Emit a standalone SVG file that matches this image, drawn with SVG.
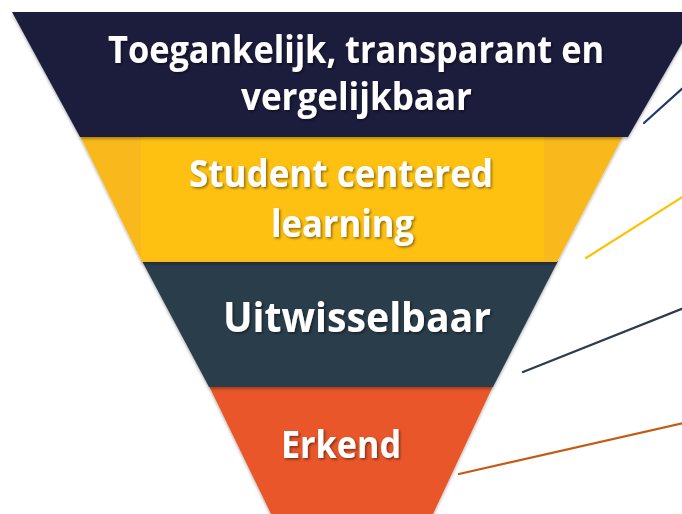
<svg xmlns="http://www.w3.org/2000/svg" width="682" height="514" viewBox="0 0 682 514">
  <defs>
    <filter id="ts" x="-10%" y="-30%" width="120%" height="160%">
      <feDropShadow dx="1.5" dy="1.5" stdDeviation="1" flood-color="#000" flood-opacity="0.45"/>
    </filter>
    <filter id="bs" x="-5%" y="-10%" width="110%" height="125%">
      <feDropShadow dx="0" dy="2" stdDeviation="1.5" flood-color="#000" flood-opacity="0.3"/>
    </filter>
  </defs>
  <style>
    .lbl { font-family: "Open Sans", "Noto Sans", "Liberation Sans", sans-serif; font-weight: 700; fill: #ffffff; filter: url(#ts); }
    .band { filter: url(#bs); }
    .conn { fill: none; stroke-width: 2.2; stroke-linecap: round; }
  </style>
  <rect width="682" height="514" fill="#ffffff"/>

  <g id="node-erkend">
    <polygon class="band" points="209,386 493,386 433,514 271,514" fill="#E8572A"/>
    <text class="lbl" x="281" y="458" font-size="38" textLength="120" lengthAdjust="spacingAndGlyphs">Erkend</text>
  </g>

  <g id="node-uitwisselbaar">
    <polygon class="band" points="142,261 558,261 493,387 209,387" fill="#2A3D4B"/>
    <text class="lbl" x="223" y="332" font-size="41" textLength="268" lengthAdjust="spacingAndGlyphs">Uitwisselbaar</text>
  </g>

  <g id="node-student">
    <polygon class="band" points="80,136 623,136 557,262 142,262" fill="#F9B91A"/>
    <rect x="141" y="137" width="403" height="123" fill="#FEC112"/>
    <text class="lbl" x="189" y="187" font-size="38" textLength="304" lengthAdjust="spacingAndGlyphs">Student centered</text>
    <text class="lbl" x="271" y="237" font-size="38" textLength="143" lengthAdjust="spacingAndGlyphs">learning</text>
  </g>

  <g id="node-toegankelijk">
    <polygon class="band" points="12,12 700,12 628,137 80,137" fill="#1B1C3C"/>
    <text class="lbl" x="108" y="63" font-size="38" textLength="496" lengthAdjust="spacingAndGlyphs">Toegankelijk, transparant en</text>
    <text class="lbl" x="241" y="110" font-size="38" textLength="231" lengthAdjust="spacingAndGlyphs">vergelijkbaar</text>
  </g>

  <g id="connectors">
    <line class="conn" x1="644" y1="123" x2="684" y2="87" stroke="#1F3767"/>
    <line class="conn" x1="586" y1="258" x2="684" y2="196" stroke="#FFC000"/>
    <line class="conn" x1="523" y1="372" x2="684" y2="308" stroke="#2E3B4E"/>
    <line class="conn" x1="459" y1="474" x2="684" y2="423" stroke="#C55A11"/>
  </g>
</svg>
